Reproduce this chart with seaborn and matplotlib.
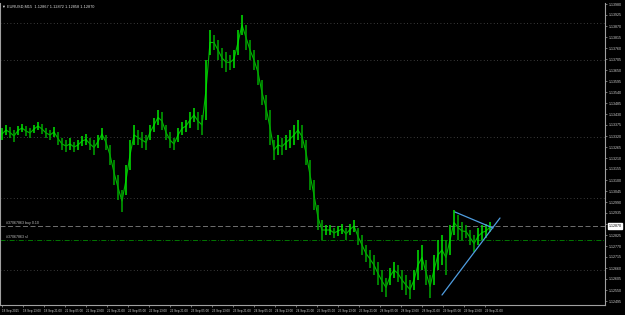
import matplotlib
matplotlib.use("Agg")
import matplotlib.pyplot as plt
import seaborn as sns

# ---- data (EURUSD, M15) ----
highs = [1.13360, 1.13375, 1.13365, 1.13350, 1.13370, 1.13380, 1.13370, 1.13360, 1.13375, 1.13390,
         1.13380, 1.13360, 1.13350, 1.13365, 1.13340, 1.13310, 1.13300, 1.13310, 1.13290, 1.13300,
         1.13320, 1.13330, 1.13310, 1.13300, 1.13325, 1.13360, 1.13325, 1.13275, 1.13200, 1.13125,
         1.13050, 1.13175, 1.13300, 1.13375, 1.13350, 1.13340, 1.13325, 1.13375, 1.13410, 1.13450,
         1.13440, 1.13375, 1.13340, 1.13310, 1.13360, 1.13390, 1.13400, 1.13440, 1.13460, 1.13440,
         1.13425, 1.13700, 1.13850, 1.13825, 1.13800, 1.13760, 1.13740, 1.13725, 1.13750, 1.13850,
         1.13925, 1.13875, 1.13800, 1.13750, 1.13700, 1.13600, 1.13525, 1.13450, 1.13300, 1.13325,
         1.13310, 1.13325, 1.13350, 1.13375, 1.13400, 1.13375, 1.13300, 1.13200, 1.13100, 1.12975,
         1.12900, 1.12875, 1.12875, 1.12860, 1.12870, 1.12880, 1.12860, 1.12880, 1.12900, 1.12860,
         1.12825, 1.12775, 1.12750, 1.12725, 1.12690, 1.12650, 1.12610, 1.12660, 1.12690, 1.12675,
         1.12650, 1.12625, 1.12600, 1.12650, 1.12750, 1.12775, 1.12700, 1.12625, 1.12725, 1.12800,
         1.12825, 1.12800, 1.12875, 1.12950, 1.12925, 1.12890, 1.12875, 1.12850, 1.12825, 1.12860,
         1.12875, 1.12880, 1.12890]
lows = [1.13300, 1.13325, 1.13310, 1.13290, 1.13325, 1.13340, 1.13320, 1.13310, 1.13335, 1.13350,
        1.13330, 1.13310, 1.13300, 1.13315, 1.13275, 1.13250, 1.13240, 1.13250, 1.13240, 1.13250,
        1.13270, 1.13275, 1.13250, 1.13225, 1.13260, 1.13300, 1.13250, 1.13175, 1.13075, 1.13000,
        1.12940, 1.13025, 1.13150, 1.13275, 1.13275, 1.13260, 1.13250, 1.13300, 1.13340, 1.13375,
        1.13350, 1.13300, 1.13260, 1.13250, 1.13290, 1.13325, 1.13340, 1.13360, 1.13390, 1.13350,
        1.13325, 1.13400, 1.13725, 1.13750, 1.13700, 1.13660, 1.13640, 1.13650, 1.13660, 1.13725,
        1.13825, 1.13750, 1.13700, 1.13650, 1.13575, 1.13475, 1.13400, 1.13275, 1.13200, 1.13225,
        1.13225, 1.13250, 1.13260, 1.13275, 1.13300, 1.13260, 1.13175, 1.13050, 1.12950, 1.12850,
        1.12800, 1.12825, 1.12825, 1.12810, 1.12820, 1.12830, 1.12800, 1.12825, 1.12840, 1.12775,
        1.12725, 1.12690, 1.12660, 1.12625, 1.12575, 1.12540, 1.12515, 1.12575, 1.12610, 1.12590,
        1.12550, 1.12525, 1.12505, 1.12550, 1.12600, 1.12650, 1.12575, 1.12510, 1.12575, 1.12650,
        1.12675, 1.12625, 1.12725, 1.12825, 1.12800, 1.12800, 1.12810, 1.12775, 1.12740, 1.12775,
        1.12800, 1.12810, 1.12840]

upper_line_x = [113.25, 122.75]
upper_line_y = [1.12940, 1.12860]
lower_line_x = [110.0, 124.5]
lower_line_y = [1.12525, 1.12910]

order_level = 1.12870
stop_level = 1.12800
current_price = 1.12870

price_ticks = [1.13980, 1.13925, 1.13870, 1.13815, 1.13760, 1.13705, 1.13650, 1.13595, 1.13540,
               1.13485, 1.13430, 1.13375, 1.13320, 1.13265, 1.13210, 1.13155, 1.13100, 1.13045,
               1.12990, 1.12935, 1.12880, 1.12825, 1.12770, 1.12715, 1.12660, 1.12605, 1.12550,
               1.12495]
grid_prices = [1.13885, 1.13700, 1.13315, 1.13010, 1.12650]

time_labels = ["18 Sep 2015", "18 Sep 13:00", "18 Sep 21:00", "21 Sep 05:00", "21 Sep 13:00",
               "21 Sep 21:00", "22 Sep 05:00", "22 Sep 13:00", "22 Sep 21:00", "23 Sep 05:00",
               "23 Sep 13:00", "23 Sep 21:00", "24 Sep 05:00", "24 Sep 13:00", "24 Sep 21:00",
               "25 Sep 05:00", "25 Sep 13:00", "25 Sep 21:00", "28 Sep 05:00", "28 Sep 13:00",
               "28 Sep 21:00", "29 Sep 05:00", "29 Sep 13:00", "29 Sep 21:00"]

title_text = "EURUSD,M15  1.12867 1.12872 1.12858 1.12870"
order_text = "#37067863 buy 0.10"
stop_text = "#37067863 sl"

# ---- styling ----
sns.set_theme(style="dark", rc={"axes.facecolor": "black", "figure.facecolor": "black",
                                "axes.edgecolor": "#a0a0a0", "text.color": "white"})
plt.rcParams["font.family"] = ["Liberation Sans", "DejaVu Sans"]

fig = plt.figure(figsize=(6.25, 3.15), dpi=100)
ax = fig.add_axes([0.0, 1 - 305 / 315, 605 / 625, 302 / 315])

n = len(highs)
xs = list(range(n))
colors = []
for i in range(n):
    mid = (highs[i] + lows[i]) / 2
    prev = (highs[i - 1] + lows[i - 1]) / 2 if i > 0 else mid
    colors.append("#00e600" if mid >= prev else "#00a800")
mids = [(h + l) / 2 for h, l in zip(highs, lows)]

for gp in grid_prices:
    ax.axhline(gp, color="#505050", lw=0.6, ls=(0, (1, 3)), zorder=1)

sns.lineplot(x=xs, y=mids, ax=ax, color="#00b400", lw=0.8, zorder=2)
ax.vlines(xs, lows, highs, colors=colors, lw=1.1, zorder=3)

ax.axhline(order_level, color="#808080", lw=0.6, ls=(0, (6, 3)), zorder=2)
ax.axhline(stop_level, color="#008a00", lw=0.6, ls=(0, (6, 2, 1, 2)), zorder=2)
ax.text(1.0, order_level + 0.00006, order_text, fontsize=2.6, color="#c0c0c0",
        ha="left", va="bottom")
ax.text(1.0, stop_level + 0.00006, stop_text, fontsize=2.6, color="#c0c0c0",
        ha="left", va="bottom")

sns.lineplot(x=upper_line_x, y=upper_line_y, ax=ax, color="#4f9de0", lw=0.9, zorder=4)
sns.lineplot(x=lower_line_x, y=lower_line_y, ax=ax, color="#4f9de0", lw=0.9, zorder=4)

ax.set_xlim(-0.5, 150.75)
ax.set_ylim(1.12475, 1.13985)

ax.yaxis.tick_right()
ax.set_yticks(price_ticks)
ax.set_yticklabels([f"{p:.5f}" for p in price_ticks], fontsize=2.6, color="#d0d0d0")
ax.tick_params(axis="y", length=1.5, width=0.5, color="#a0a0a0", pad=1.0, right=True)

tick_x = [i * 5.25 for i in range(len(time_labels))]
ax.set_xticks(tick_x)
ax.set_xticklabels(time_labels, fontsize=2.2, color="#d0d0d0", ha="left")
ax.tick_params(axis="x", length=1.5, width=0.5, color="#a0a0a0", pad=1.5, bottom=True)

ax.spines["top"].set_visible(False)
for s in ["left", "right", "bottom"]:
    ax.spines[s].set_color("#a0a0a0")
    ax.spines[s].set_linewidth(0.8)
ax.grid(False)

ax.text(1.006, current_price, f"{current_price:.5f}", transform=ax.get_yaxis_transform(),
        fontsize=2.6, color="black", ha="left", va="center",
        bbox=dict(boxstyle="square,pad=0.15", fc="white", ec="white"))

fig.text(0.004, 0.985, "\u25bc " + title_text, fontsize=2.8, color="#e0e0e0", ha="left", va="top")

fig.savefig("out.png", dpi=100, facecolor="black")
